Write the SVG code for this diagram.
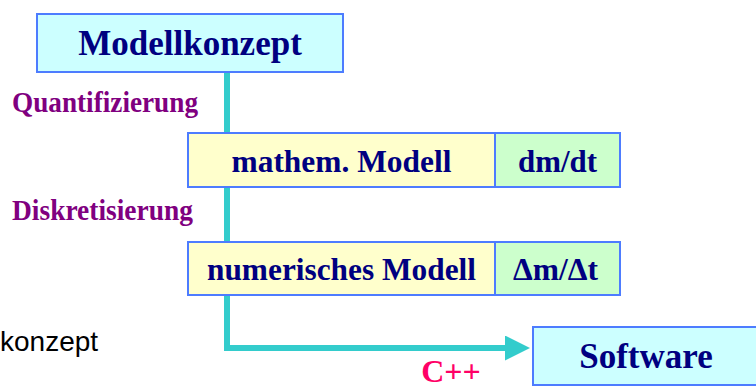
<svg xmlns="http://www.w3.org/2000/svg" width="756" height="389" viewBox="0 0 756 389">
  <style>
    .box { stroke: #4d7cff; stroke-width: 2; }
    .cyan { fill: #ccffff; }
    .yellow { fill: #ffffcc; }
    .green { fill: #ccffcc; }
    .t { font-family: "Liberation Serif", "Times New Roman", serif; font-weight: bold; fill: #000080; text-anchor: middle; }
    .lab { font-family: "Liberation Serif", "Times New Roman", serif; font-weight: bold; fill: #800080; font-size: 29px; }
    .conn { fill: none; stroke: #33cccc; stroke-width: 6; }
  </style>
  <defs>
    <marker id="arrow" markerUnits="userSpaceOnUse" markerWidth="26" markerHeight="26" refX="1" refY="12.5" orient="auto">
      <path d="M0,0 L25,12.5 L0,25 Z" fill="#33cccc"/>
    </marker>
  </defs>
  <rect width="756" height="389" fill="#ffffff"/>

  <g id="connectors">
    <path class="conn" d="M227,72 V348 H506" marker-end="url(#arrow)"/>
    <text class="lab" x="12" y="112" textLength="186" lengthAdjust="spacingAndGlyphs">Quantifizierung</text>
    <text class="lab" x="12" y="220" textLength="181" lengthAdjust="spacingAndGlyphs">Diskretisierung</text>
    <text x="451" y="382" font-family="Liberation Serif, Times New Roman, serif" font-weight="bold" font-size="32" fill="#ff0066" text-anchor="middle">C++</text>
  </g>

  <g id="modellkonzept">
    <rect class="box cyan" x="37" y="14" width="306" height="58"/>
    <text class="t" x="190" y="55" font-size="35">Modellkonzept</text>
  </g>

  <g id="mathem-modell">
    <rect class="box yellow" x="188" y="133" width="307" height="54"/>
    <rect class="box green" x="495" y="133" width="125" height="54"/>
    <text class="t" x="341.5" y="172" font-size="31" textLength="220" lengthAdjust="spacingAndGlyphs">mathem. Modell</text>
    <text class="t" x="557.5" y="172" font-size="31" textLength="79" lengthAdjust="spacingAndGlyphs">dm/dt</text>
  </g>

  <g id="numerisches-modell">
    <rect class="box yellow" x="188" y="242" width="307" height="53"/>
    <rect class="box green" x="495" y="242" width="125" height="53"/>
    <text class="t" x="341.5" y="280" font-size="31" textLength="269" lengthAdjust="spacingAndGlyphs">numerisches Modell</text>
    <text class="t" x="555.5" y="280" font-size="31" textLength="85" lengthAdjust="spacingAndGlyphs">Δm/Δt</text>
  </g>

  <g id="software">
    <rect class="box cyan" x="533" y="327" width="230" height="58"/>
    <text class="t" x="646" y="368" font-size="35">Software</text>
  </g>

  <g id="fragment">
    <text x="0" y="351" font-family="Liberation Sans, Arial, sans-serif" font-size="28" fill="#000000">konzept</text>
  </g>
</svg>
